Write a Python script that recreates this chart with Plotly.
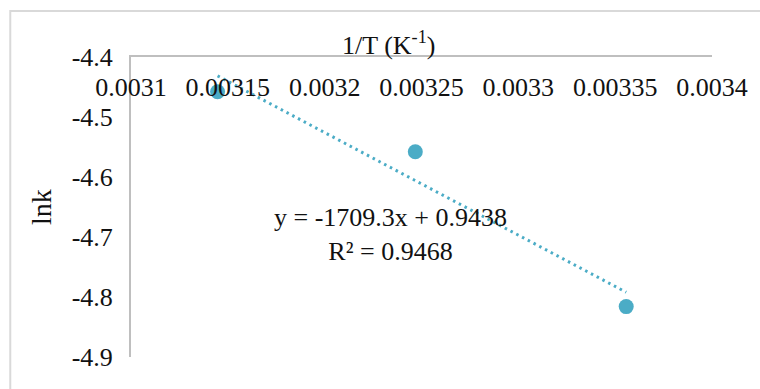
import plotly.graph_objects as go
import numpy as np

# Data (1/T in K^-1, ln k)
inv_T = [0.0031447, 0.0032468, 0.0033557]
ln_k = [-4.458, -4.558, -4.816]

# Trendline reported on chart
slope = -1709.3
intercept = 0.9438
r2 = 0.9468

x_ticks = [0.0031, 0.00315, 0.0032, 0.00325, 0.0033, 0.00335, 0.0034]
x_ticktext = ["0.0031", "0.00315", "0.0032", "0.00325", "0.0033", "0.00335", "0.0034"]
y_ticks = [-4.4, -4.5, -4.6, -4.7, -4.8, -4.9]
y_ticktext = ["-4.4", "-4.5", "-4.6", "-4.7", "-4.8", "-4.9"]

COLOR = "#4BACC6"
FONT = "Liberation Serif"

trend_x = np.array([min(inv_T), max(inv_T)])
trend_y = slope * trend_x + intercept

fig = go.Figure()
fig.add_trace(go.Scatter(x=trend_x, y=trend_y, mode="lines",
                         line=dict(color=COLOR, width=3, dash="2.5px,4px"),
                         hoverinfo="skip", showlegend=False))
fig.add_trace(go.Scatter(x=inv_T, y=ln_k, mode="markers",
                         marker=dict(color=COLOR, size=15),
                         showlegend=False))

fig.update_layout(
    width=760, height=389,
    margin=dict(l=131, r=42, t=57, b=32),
    paper_bgcolor="white", plot_bgcolor="white",
    font=dict(family=FONT, color="#111111", size=26),
    xaxis=dict(range=[0.0031, 0.0034], side="top",
               tickvals=x_ticks, ticktext=x_ticktext,
               ticklabelposition="inside", ticklabeloverflow="allow",
               ticklabelstandoff=23,
               showgrid=False, zeroline=False,
               showline=True, linecolor="#BFBFBF", linewidth=2,
               ticks="", tickfont=dict(size=26, family=FONT, color="#111111")),
    yaxis=dict(range=[-4.9, -4.4], tickvals=y_ticks, ticktext=y_ticktext,
               showgrid=False, zeroline=False,
               showline=True, linecolor="#BFBFBF", linewidth=2,
               ticks="", ticklabelstandoff=11,
               tickfont=dict(size=26, family=FONT, color="#111111"),
               title=dict(text="lnk", standoff=12,
                          font=dict(size=28, family=FONT, color="#111111"))),
    shapes=[dict(type="rect", xref="paper", yref="paper",
                 x0=-0.2078, x1=1.09, y0=-0.13, y1=1.1533,
                 line=dict(color="#D9D9D9", width=2), layer="below")],
    annotations=[
        dict(text="1/T (K<sup>-1</sup>)", xref="paper", yref="paper",
             x=0.443, y=1.045, xanchor="center", yanchor="middle",
             showarrow=False, font=dict(size=26, family=FONT, color="#111111")),
        dict(text=f"y = {slope}x + {intercept}<br>R² = {r2}",
             xref="paper", yref="paper", x=0.4463, y=0.4067,
             xanchor="center", yanchor="middle", align="center",
             showarrow=False, font=dict(size=26, family=FONT, color="#111111")),
    ],
)

fig.write_html("out.html")
